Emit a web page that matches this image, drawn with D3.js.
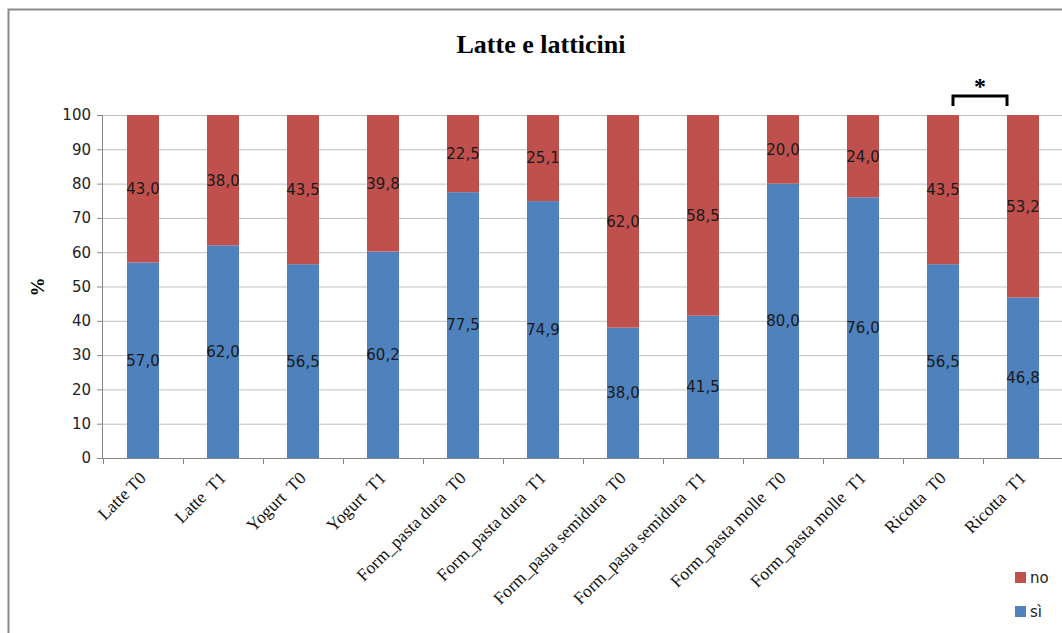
<!DOCTYPE html>
<html>
<head>
<meta charset="utf-8">
<script src="https://cdn.jsdelivr.net/npm/d3@7"></script>
<style>
  html, body { margin: 0; padding: 0; background: #fff; }
  svg { display: block; }
</style>
</head>
<body>
<svg id="chart" width="1062" height="633"></svg>
<script>
// Categories (food item and time point)
const categories = [
  "Latte T0", "Latte  T1", "Yogurt  T0", "Yogurt  T1",
  "Form_pasta dura  T0", "Form_pasta dura  T1",
  "Form_pasta semidura  T0", "Form_pasta semidura  T1",
  "Form_pasta molle  T0", "Form_pasta molle  T1",
  "Ricotta  T0", "Ricotta  T1"
];
// Percentage answering "sì"
const siValues = [57.0, 62.0, 56.5, 60.2, 77.5, 74.9, 38.0, 41.5, 80.0, 76.0, 56.5, 46.8];
// Percentage answering "no"
const noValues = [43.0, 38.0, 43.5, 39.8, 22.5, 25.1, 62.0, 58.5, 20.0, 24.0, 43.5, 53.2];
const yTicks = [0, 10, 20, 30, 40, 50, 60, 70, 80, 90, 100];
const seriesNames = ["sì", "no"];
// Significant difference marker between two categories
const significancePair = ["Ricotta  T0", "Ricotta  T1"];

const colors = { "sì": "#4F81BD", "no": "#C0504D" };
const sansFont = "'DejaVu Sans', Verdana, sans-serif";
const serifFont = "'Liberation Serif', 'Times New Roman', serif";

const svg = d3.select("#chart");
const W = 1062, H = 633;
const margin = { left: 103, top: 115 };
const plotW = 960, plotH = 343;

// Outer chart frame
svg.append("rect")
  .attr("x", 8.5).attr("y", 9.5)
  .attr("width", W + 20).attr("height", H + 20)
  .attr("fill", "#fff").attr("stroke", "#8a8a8a").attr("stroke-width", 2);

svg.append("text")
  .attr("x", 541).attr("y", 53)
  .attr("text-anchor", "middle")
  .attr("font-family", serifFont)
  .attr("font-weight", "bold")
  .attr("font-size", 26)
  .text("Latte e latticini");

const g = svg.append("g").attr("transform", `translate(${margin.left},${margin.top})`);

const x = d3.scaleBand().domain(categories).range([0, plotW]).paddingInner(0.6).paddingOuter(0.3);
const y = d3.scaleLinear().domain([0, 100]).range([plotH, 0]);

// Horizontal gridlines
g.append("g").selectAll("line").data(yTicks.filter(t => t > 0)).join("line")
  .attr("x1", 0).attr("x2", plotW)
  .attr("y1", d => y(d) + 0.5).attr("y2", d => y(d) + 0.5)
  .attr("stroke", "#c0c0c0").attr("stroke-width", 1);

// Stacked data
const rows = categories.map((c, i) => ({ cat: c, "sì": siValues[i], "no": noValues[i] }));
const stack = d3.stack().keys(seriesNames)(rows);

const fmt = v => v.toFixed(1).replace(".", ",");

stack.forEach(layer => {
  const key = layer.key;
  g.append("g").selectAll("rect").data(layer).join("rect")
    .attr("x", d => x(d.data.cat))
    .attr("width", x.bandwidth())
    .attr("y", d => y(d[1]))
    .attr("height", d => y(d[0]) - y(d[1]))
    .attr("fill", colors[key]);
  g.append("g").selectAll("text").data(layer).join("text")
    .attr("x", d => x(d.data.cat) + x.bandwidth() / 2)
    .attr("y", d => y((d[0] + d[1]) / 2))
    .attr("dy", "0.36em")
    .attr("text-anchor", "middle")
    .attr("font-family", sansFont)
    .attr("font-size", 15)
    .attr("fill", "#1a1a1a")
    .text(d => fmt(d.data[key]));
});

// Y axis
const yAxis = g.append("g").call(d3.axisLeft(y).tickValues(yTicks).tickSize(6).tickPadding(6));
yAxis.select(".domain").attr("stroke", "#868686").attr("d", `M-0.5,0V${plotH}`);
yAxis.selectAll(".tick line").attr("stroke", "#868686");
yAxis.selectAll("text")
  .attr("font-family", sansFont)
  .attr("font-size", 15).attr("fill", "#222");

// X axis with tick marks at band boundaries
const xAxisG = g.append("g").attr("transform", `translate(0,${plotH})`);
xAxisG.append("line").attr("x1", 0).attr("x2", plotW).attr("y1", 0.5).attr("y2", 0.5).attr("stroke", "#868686");
const step = x.step();
xAxisG.selectAll("line.tk").data(d3.range(categories.length + 1)).join("line")
  .attr("class", "tk")
  .attr("x1", i => i * step + 0.5).attr("x2", i => i * step + 0.5)
  .attr("y1", 0).attr("y2", 6).attr("stroke", "#868686");
xAxisG.selectAll("text").data(categories).join("text")
  .attr("transform", d => `translate(${x(d) + x.bandwidth() / 2 + 4},${21}) rotate(-45)`)
  .attr("text-anchor", "end")
  .attr("font-family", serifFont)
  .attr("font-size", 17.5)
  .attr("fill", "#111")
  .style("white-space", "pre")
  .text(d => d);

// Y axis title
svg.append("text")
  .attr("transform", "translate(44,287) rotate(-90)")
  .attr("text-anchor", "middle")
  .attr("font-family", serifFont)
  .attr("font-weight", "bold")
  .attr("font-size", 19)
  .text("%");

// Significance bracket
const xa = x(significancePair[0]) + x.bandwidth() / 2 + 10;
const xb = x(significancePair[1]) + x.bandwidth() / 2 - 16;
const by = -19;
g.append("path")
  .attr("d", `M${xa},${by + 10}V${by}H${xb}V${by + 10}`)
  .attr("fill", "none").attr("stroke", "#000").attr("stroke-width", 3);
g.append("text")
  .attr("x", (xa + xb) / 2).attr("y", by - 2)
  .attr("text-anchor", "middle")
  .attr("font-family", serifFont)
  .attr("font-weight", "bold")
  .attr("font-size", 24)
  .text("*");

// Legend
const legend = svg.append("g").attr("transform", "translate(1015,572)");
["no", "sì"].forEach((k, i) => {
  const row = legend.append("g").attr("transform", `translate(0,${i * 34})`);
  row.append("rect").attr("width", 11).attr("height", 11).attr("fill", colors[k]);
  row.append("text").attr("x", 15).attr("y", 11)
    .attr("font-family", sansFont)
    .attr("font-size", 15).attr("fill", "#222")
    .text(k);
});
</script>
</body>
</html>
